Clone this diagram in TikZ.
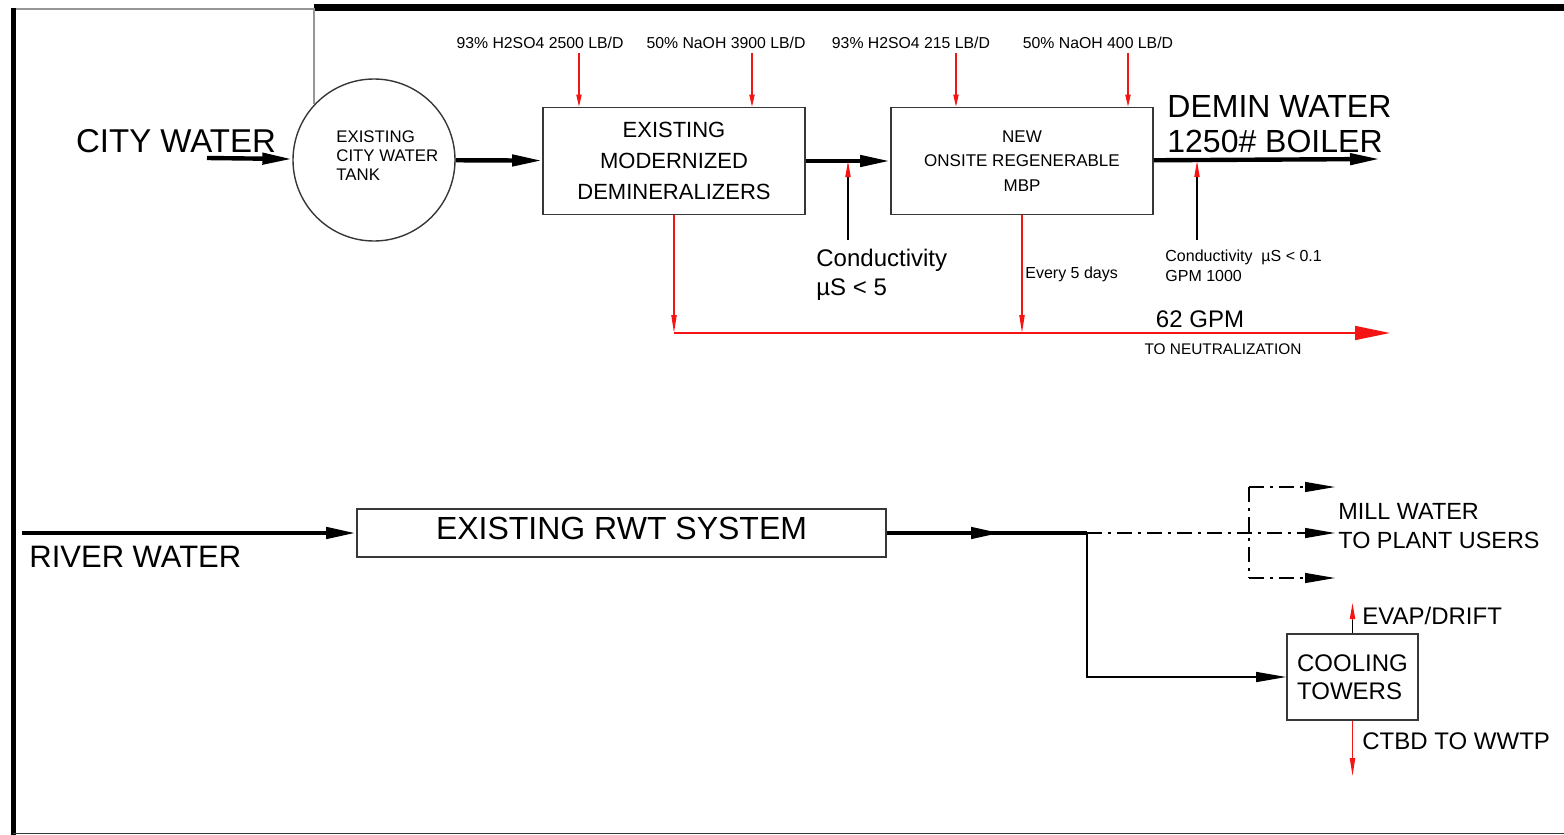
\documentclass[tikz,border=0pt]{standalone}
\usepackage{fontspec}
\setmainfont{Liberation Sans}
\usetikzlibrary{arrows.meta,positioning,calc}
\definecolor{feedred}{RGB}{245,20,20}
\definecolor{edgegray}{RGB}{55,55,55}
\definecolor{paperline}{RGB}{150,150,150}

\begin{document}
\begin{tikzpicture}[x=0.5pt,y=-0.5pt,every node/.append style={inner sep=0pt},
  unitbox/.style={draw=edgegray,line width=0.8pt,align=center},
  fsz/.style 2 args={font=\fontsize{#1}{#2}\selectfont},
  flow/.style={line width=2.2pt,-{Triangle[length=15pt,width=5.5pt]}},
  feed/.style={feedred,line width=0.6pt,-{Triangle[length=6pt,width=2.6pt]}},
  drain/.style={feedred,line width=0.7pt,-{Triangle[length=9pt,width=2.6pt]}},
  tip/.style={feedred,line width=0.6pt,-{Triangle[length=8pt,width=2.6pt]}},
  probe/.style={line width=0.6pt},
  mill/.style={line width=0.6pt,dash pattern=on 7.5pt off 3pt on 1.5pt off 3pt},
  millarrow/.style={mill,-{Triangle[length=15pt,width=5pt]}},
]
\useasboundingbox (0,0) rectangle (1564,835);
% ================= sheet frame =================
\draw[line width=3.2pt] (314,7.5) -- (1564,7.5);
\draw[paperline,line width=0.6pt] (12,9) -- (314,9) -- (314,104);
\draw[line width=2.6pt] (13.5,8) -- (13.5,835);
\draw[edgegray,line width=0.8pt] (13,833.5) -- (1564,833.5);

% ================= TOP: city water / demin train =================
\node[fsz={16.5pt}{19pt}] (cwlab) at (176,141) {CITY WATER};
\coordinate (cwin) at (207,158);
\node[draw=edgegray,line width=0.7pt,circle,minimum size=81pt] (tank) at (374,160) {};
\node[fsz={8.4pt}{9.5pt},align=left,anchor=west] (tanklab) at (336,156)
  {EXISTING\\CITY WATER\\TANK};
\node[unitbox,minimum width=131pt,minimum height=53.5pt,fsz={11pt}{15.5pt}] (demin) at (674,161)
  {EXISTING\\MODERNIZED\\DEMINERALIZERS};
\node[unitbox,minimum width=131pt,minimum height=53.5pt,fsz={8.5pt}{12.25pt}] (mbp) at (1022,161)
  {NEW\\ONSITE REGENERABLE\\MBP};
\coordinate (bout) at (1380,159);
\draw[flow] (cwin) -- (tank);
\draw[flow] (tank) -- (demin);
\draw[flow] (demin) -- (mbp);
\draw[flow] (mbp) -- (bout);
\node[fsz={16pt}{17.5pt},align=left,anchor=west] (boilerlab) at (1167,124)
  {DEMIN WATER\\1250\# BOILER};
% chemical feeds
\foreach \lx/\ax/\unit/\lab in {540/579/demin/{93\% H2SO4 2500 LB/D},
                                726/752/demin/{50\% NaOH 3900 LB/D},
                                911/956/mbp/{93\% H2SO4 215 LB/D},
                                1098/1128/mbp/{50\% NaOH 400 LB/D}}{
  \node[fsz={7.9pt}{9pt}] (chem\ax) at (\lx,43) {\lab};
  \draw[feed,shorten <=2pt] (\ax,0 |- chem\ax.south) -- (\ax,0 |- \unit.north);
}
% conductivity probes
\coordinate (s1) at (848,240);
\coordinate (s2) at (1197,240);
\foreach \s in {s1,s2}{
  \draw[probe] (\s) -- ([yshift=32pt]\s);
  \draw[tip] ([yshift=32pt]\s) -- (\s |- demin.east);
}
\node[fsz={12pt}{14.5pt},align=left,anchor=north west] (cond1) at (816,249)
  {Conductivity\\µS < 5};
\node[fsz={8pt}{10pt},align=left,anchor=north west] (cond2) at (1165,250)
  {Conductivity\ \ µS < 0.1\\GPM 1000};
% regeneration waste
\coordinate (nl) at (674,333);
\coordinate (nr) at (1390,333);
\draw[drain] (demin) -- (demin |- nl);
\draw[drain] (mbp) -- (mbp |- nl);
\draw[feedred,line width=0.8pt,-{Triangle[length=17.5pt,width=7pt]}] (nl) -- (nr);
\node[fsz={8pt}{9pt},anchor=west] (every) at (1025,274) {Every 5 days};
\node[fsz={12pt}{14pt}] (gpm) at (1200,319) {62 GPM};
\node[fsz={7.7pt}{9pt}] (neut) at (1223,349) {TO NEUTRALIZATION};

% ================= BOTTOM: river water =================
\coordinate (rin) at (22,533);
\node[unitbox,minimum width=264.5pt,minimum height=24pt,text depth=5pt,fsz={16pt}{18pt}] (rwt) at (621.5,533)
  {EXISTING RWT SYSTEM};
\node[fsz={15.5pt}{18pt},anchor=west] (rivlab) at (29,557) {RIVER WATER};
\coordinate (rmid) at (1001,533);
\coordinate (split) at (1087,533);
\draw[flow] (rin) -- (rwt);
\draw[line width=1.6pt] (rwt) -- (split);
\draw[flow] (rwt) -- (rmid);
% mill water branches (dash-dot)
\coordinate (mill) at (1335,533);
\coordinate (mtop) at (1249,487);
\coordinate (mbot) at (1249,578);
\draw[millarrow] (split) -- (mill);
\draw[mill] (mtop) -- (mbot);
\draw[millarrow] (mtop) -- (mtop -| mill);
\draw[millarrow] (mbot) -- (mbot -| mill);
\node[fsz={11.7pt}{14.5pt},align=left,anchor=west] (milllab) at (1338,526)
  {MILL WATER\\TO PLANT USERS};
% cooling towers
\node[unitbox,align=left,minimum width=65.5pt,minimum height=43pt,fsz={12pt}{14pt}] (ct) at (1352.5,677)
  {COOLING\\TOWERS};
\draw[line width=0.7pt,-{Triangle[length=15pt,width=5pt]}] (split) |- (ct);
\coordinate (ev) at (1352.5,603);
\coordinate (bd) at (1352.5,776);
\draw[probe] (ct.north) -- ([yshift=7pt]ct.north);
\draw[tip] ([yshift=7pt]ct.north) -- (ev);
\draw[drain] (ct) -- (bd);
\node[fsz={12pt}{14pt},anchor=west] (evap) at (1362,616) {EVAP/DRIFT};
\node[fsz={12pt}{14pt},anchor=west] (ctbd) at (1362,741) {CTBD TO WWTP};
\end{tikzpicture}
\end{document}
